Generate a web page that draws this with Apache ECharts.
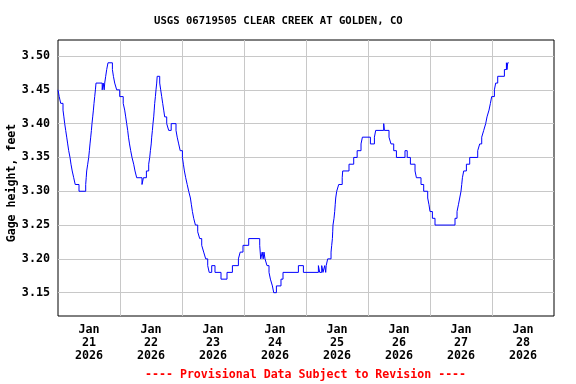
<!DOCTYPE html>
<html>
<head>
<meta charset="utf-8">
<script src="https://cdn.jsdelivr.net/npm/echarts@6/dist/echarts.min.js"></script>
<style>html,body{margin:0;padding:0;background:#fff;}#c{width:576px;height:384px;}</style>
</head>
<body>
<div id="c"></div>
<script>
// hours since 2026-01-21 00:00 at which the gage height changes
var hours = [0,0.46,1.05,1.94,2.28,2.59,2.98,3.37,3.75,4.14,4.65,5.03,5.50,6.08,6.66,8.13,
10.72,10.92,11.11,11.50,11.88,12.15,12.39,12.66,12.93,13.16,13.43,13.70,13.94,14.21,14.48,14.71,
17.11,17.50,17.88,18.08,18.46,18.85,19.35,21.06,21.45,21.95,22.72,23.88,25.24,25.82,26.21,26.59,
26.98,27.29,27.68,28.14,28.65,29.30,29.81,30.46,32.52,33.06,34.22,35.11,35.50,35.77,36.08,36.27,
36.54,36.77,37.05,37.24,37.43,37.70,37.94,38.21,38.40,39.37,39.75,40.14,40.53,40.92,41.30,42.08,
42.85,43.82,45.68,46.14,46.72,47.30,48.16,48.54,48.93,49.43,50.01,50.59,51.25,51.64,52.03,52.53,
53.19,54.08,54.85,55.63,56.40,57.17,57.95,58.53,59.50,60.77,63.10,65.42,67.51,69.83,70.53,71.61,
73.82,78.08,78.47,79.05,79.43,79.74,80.13,80.90,81.68,82.22,82.99,83.50,84.54,86.32,87.10,93.06,
94.99,100.80,101.30,102.08,102.58,103.24,103.63,103.82,104.40,105.69,105.95,106.22,106.34,106.45,
106.84,107.11,107.30,107.50,107.89,108.66,110.02,110.21,112.65,114.47,115.80,117.30,117.83,120.93,
122.48,122.98,126.08,126.35,128.13,128.90,129.95,131.00,134.32,135.18,136.41,138.20,138.74,140.52,
141.56,143.11,143.61,144.00,144.93,145.94,153.68,154.46,155.00,155.50,156.00,156.28,156.55,157.05,
158.09,159.37,162.47,163.24,164.02,164.79,165.56,166.07,166.84,167.38,167.88,168.93,169.43,170.21,
172.80,173.58,173.81,174.08,174.47];
// gage height, feet
var gage = [3.45,3.44,3.43,3.42,3.41,3.40,3.39,3.38,3.37,3.36,3.35,3.34,3.33,3.32,3.31,3.30,
3.31,3.32,3.33,3.34,3.35,3.36,3.37,3.38,3.39,3.40,3.41,3.42,3.43,3.44,3.45,3.46,
3.45,3.46,3.45,3.46,3.47,3.48,3.49,3.48,3.47,3.46,3.45,3.44,3.43,3.42,3.41,3.40,
3.39,3.38,3.37,3.36,3.35,3.34,3.33,3.32,3.31,3.32,3.33,3.34,3.35,3.36,3.37,3.38,
3.39,3.40,3.41,3.42,3.43,3.44,3.45,3.46,3.47,3.46,3.45,3.44,3.43,3.42,3.41,3.40,
3.39,3.40,3.39,3.38,3.37,3.36,3.35,3.34,3.33,3.32,3.31,3.30,3.29,3.28,3.27,3.26,
3.25,3.24,3.23,3.22,3.21,3.20,3.19,3.18,3.19,3.18,3.17,3.18,3.19,3.20,3.21,3.22,
3.23,3.22,3.20,3.21,3.20,3.21,3.20,3.19,3.18,3.17,3.16,3.15,3.16,3.17,3.18,3.19,
3.18,3.19,3.18,3.19,3.18,3.19,3.18,3.19,3.20,3.21,3.22,3.23,3.24,3.25,
3.26,3.27,3.28,3.29,3.30,3.31,3.32,3.33,3.34,3.35,3.36,3.37,3.38,3.37,
3.38,3.39,3.40,3.39,3.38,3.37,3.36,3.35,3.36,3.35,3.34,3.33,3.32,3.31,
3.30,3.29,3.28,3.27,3.26,3.25,3.26,3.27,3.28,3.29,3.30,3.31,3.32,3.33,
3.34,3.35,3.36,3.37,3.38,3.39,3.40,3.41,3.42,3.43,3.44,3.45,3.46,3.47,
3.48,3.49,3.48,3.49,3.49];
// tick labels at noon of each day
var dayLabels = ['Jan\n21\n2026','Jan\n22\n2026','Jan\n23\n2026','Jan\n24\n2026',
                 'Jan\n25\n2026','Jan\n26\n2026','Jan\n27\n2026','Jan\n28\n2026'];
var titleText = 'USGS 06719505 CLEAR CREEK AT GOLDEN, CO';
var yName = 'Gage height, feet';
var footText = '---- Provisional Data Subject to Revision ----';

var FONT = 'DejaVu Sans Mono';
var data = hours.map(function (h, i) { return [h, gage[i]]; });
var chart = echarts.init(document.getElementById('c'), null, {renderer: 'canvas'});
chart.setOption({
  animation: false,
  backgroundColor: '#fff',
  title: [
    {text: titleText, left: 154, top: 16, padding: 0,
     textStyle: {fontFamily: FONT, fontWeight: 'bold', fontSize: 10.6, color: '#000'}},
    {text: footText, left: 145, top: 369, padding: 0,
     textStyle: {fontFamily: FONT, fontWeight: 'bold', fontSize: 11.6, color: '#ff0000'}}
  ],
  grid: {left: 58, top: 40, width: 496, height: 276, show: true, outerBoundsMode: 'none',
         containLabel: false,
         borderColor: '#000', borderWidth: 1, backgroundColor: 'transparent'},
  xAxis: [
    {type: 'value', min: 0, max: 192, interval: 24,
     axisLine: {show: false}, axisTick: {show: false}, axisLabel: {show: false},
     splitLine: {show: true, showMinLine: false, showMaxLine: false,
                 lineStyle: {color: '#c8c8c8', width: 1}}},
    {type: 'value', min: 0, max: 192, interval: 12, position: 'bottom',
     axisLine: {show: false}, axisTick: {show: false}, splitLine: {show: false},
     axisLabel: {show: true, showMinLabel: true, showMaxLabel: true, margin: 7,
       fontFamily: FONT, fontWeight: 'bold', fontSize: 11.7, color: '#000', lineHeight: 13,
       formatter: function (v) {
         if (Math.round(v / 12) % 2 === 0) return '';
         var i = Math.round((v - 12) / 24);
         return (i >= 0 && i < dayLabels.length) ? dayLabels[i] : '';
       }}}
  ],
  yAxis: {type: 'value', min: 3.1155, max: 3.5237, splitNumber: 8,
    minInterval: 0.05, maxInterval: 0.05,
    name: yName, nameLocation: 'middle', nameGap: 40, nameRotate: 90,
    nameMoveOverlap: false,
    nameTextStyle: {fontFamily: FONT, fontWeight: 'bold', fontSize: 11.6, color: '#000',
                    padding: [0, 10, 0, 0]},
    axisLine: {show: false}, axisTick: {show: false},
    axisLabel: {showMinLabel: false, showMaxLabel: false, margin: 8,
      fontFamily: FONT, fontWeight: 'bold', fontSize: 11.7, color: '#000',
      formatter: function (v) { return v.toFixed(2); }},
    splitLine: {show: true, showMinLine: false, showMaxLine: false,
                lineStyle: {color: '#c8c8c8', width: 1}}},
  series: [{
    type: 'line', xAxisIndex: 0, data: data, step: 'end', symbol: 'none',
    lineStyle: {color: '#0000ff', width: 1}, silent: true
  }]
});
</script>
</body>
</html>
